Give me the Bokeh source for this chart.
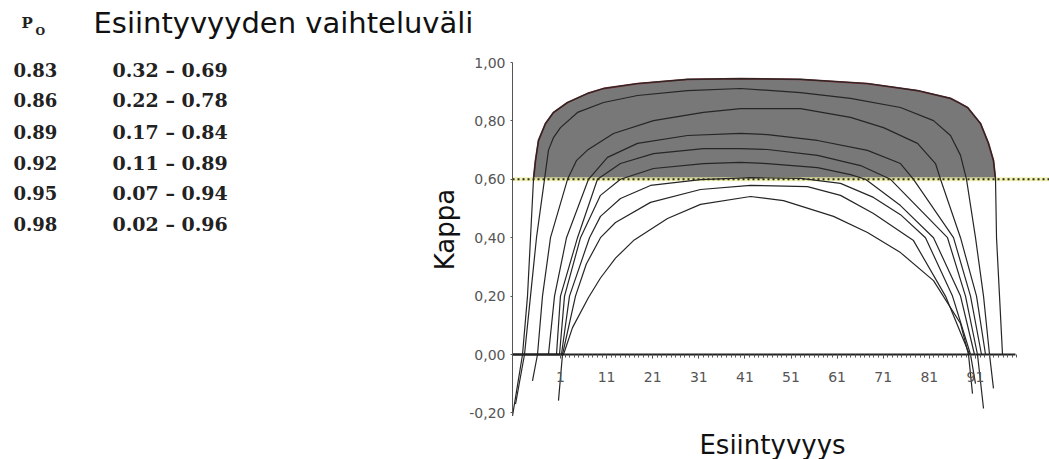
import numpy as np
from bokeh.plotting import figure
from bokeh.models import Range1d, FixedTicker, Label, LinearAxis, CustomJSTickFormatter
from bokeh.embed import file_html
from bokeh.resources import INLINE

# ---------------- data ----------------
po_values = ["0.83", "0.86", "0.89", "0.92", "0.95", "0.98"]
prevalence_ranges = ["0.32 – 0.69", "0.22 – 0.78", "0.17 – 0.84",
                     "0.11 – 0.89", "0.07 – 0.94", "0.02 – 0.96"]

x_tick_values = [1, 11, 21, 31, 41, 51, 61, 71, 81, 91]
x_minor_tick_values = list(range(1, 101))
y_tick_values = [-0.2, 0.0, 0.2, 0.4, 0.6, 0.8, 1.0]
kappa_threshold = 0.6
x_axis_start, x_axis_end = -9.41, 99.7
y_axis_start, y_axis_end = -0.21, 1.0

baseline_x = [-9.41, 1.65]
baseline_y = [0.0, 0.0]

# kappa curves (x = prevalence category, y = kappa)
kappa_098_x = [-9.41, -7.24, -6.16, -5.51, -4.86, -4.43, -3.77, -2.26, -0.52, 2.52, 6.85, 10.33,
               17.70, 28.55, 40.04, 53.06, 67.59, 78.44, 85.60, 87.33, 89.29, 92.11, 93.84, 94.92,
               95.36, 95.58, 96.23, 96.88]
kappa_098_y = [-0.21, 0.00, 0.20, 0.40, 0.60, 0.664, 0.733, 0.791, 0.829, 0.863, 0.894, 0.911,
               0.928, 0.942, 0.945, 0.942, 0.928, 0.904, 0.877, 0.863, 0.846, 0.791, 0.723, 0.664,
               0.60, 0.40, 0.20, 0.00]

kappa_095_x = [-8.76, -6.81, -5.51, -4.21, -2.47, -1.61, -0.52, 0.99, 4.69, 10.33, 17.70, 28.55,
               40.04, 53.06, 63.91, 74.75, 81.91, 85.60, 87.77, 89.07, 91.02, 92.76, 94.06, 94.92]
kappa_095_y = [-0.17, 0.00, 0.20, 0.40, 0.60, 0.70, 0.743, 0.777, 0.829, 0.863, 0.887, 0.904,
               0.911, 0.897, 0.877, 0.846, 0.801, 0.750, 0.682, 0.60, 0.40, 0.20, 0.00, -0.116]

kappa_092_x = [-5.08, -3.99, -2.91, -1.17, 2.52, 4.50, 6.85, 12.49, 21.17, 32.02, 40.04, 53.06,
               63.91, 71.06, 78.44, 82.34, 83.43, 87.77, 91.24, 93.19]
kappa_092_y = [-0.09, 0.00, 0.20, 0.40, 0.60, 0.665, 0.70, 0.757, 0.801, 0.829, 0.842, 0.842,
               0.812, 0.777, 0.723, 0.654, 0.60, 0.40, 0.20, 0.00]

kappa_089_x = [-1.61, -0.30, 2.30, 7.07, 11.19, 17.70, 28.55, 40.04, 45.90, 56.75, 67.59, 74.75,
               77.57, 86.25, 89.94, 92.32]
kappa_089_y = [0.00, 0.20, 0.40, 0.60, 0.675, 0.723, 0.750, 0.757, 0.753, 0.733, 0.699, 0.654,
               0.60, 0.40, 0.20, 0.00]

kappa_086_x = [0.13, 0.99, 4.69, 9.02, 14.01, 21.17, 32.02, 40.04, 45.90, 56.75, 66.08, 72.58,
               84.95, 88.85, 91.45, 92.76]
kappa_086_y = [0.00, 0.20, 0.40, 0.60, 0.654, 0.688, 0.705, 0.705, 0.702, 0.682, 0.647, 0.60,
               0.40, 0.20, 0.00, -0.185]

kappa_083_x = [0.78, 1.87, 5.34, 9.67, 14.01, 21.17, 32.02, 40.04, 45.90, 56.75, 63.91, 67.16,
               74.75, 81.91, 87.77, 90.80]
kappa_083_y = [0.00, 0.20, 0.40, 0.545, 0.60, 0.637, 0.654, 0.658, 0.654, 0.640, 0.616, 0.60,
               0.51, 0.40, 0.20, 0.00]

kappa_080_x = [1.21, 2.95, 7.29, 9.67, 14.01, 20.52, 31.37, 42.21, 53.06, 61.74, 68.89, 74.75,
               80.17, 86.03, 89.94, 91.02]
kappa_080_y = [0.00, 0.20, 0.40, 0.473, 0.534, 0.579, 0.599, 0.606, 0.603, 0.586, 0.538, 0.479,
               0.40, 0.20, 0.00, -0.10]

kappa_079_x = [0.56, 1.43, 4.25, 6.60, 9.67, 12.93, 20.52, 31.37, 42.21, 54.58, 61.74, 68.89,
               77.57, 84.51, 89.72]
kappa_079_y = [-0.158, 0.00, 0.20, 0.31, 0.40, 0.452, 0.521, 0.565, 0.579, 0.575, 0.545, 0.483,
               0.39, 0.20, 0.00]

kappa_077_x = [1.65, 3.60, 7.07, 9.67, 12.93, 16.83, 24.21, 31.37, 42.21, 49.37, 60.22, 67.59,
               74.75, 81.91, 87.77, 89.50, 90.37]
kappa_077_y = [0.00, 0.092, 0.195, 0.262, 0.330, 0.39, 0.466, 0.514, 0.541, 0.527, 0.473, 0.418,
               0.349, 0.253, 0.106, 0.00, -0.134]

curves = [
    (kappa_098_x, kappa_098_y), (kappa_095_x, kappa_095_y), (kappa_092_x, kappa_092_y),
    (kappa_089_x, kappa_089_y), (kappa_086_x, kappa_086_y), (kappa_083_x, kappa_083_y),
    (kappa_080_x, kappa_080_y), (kappa_079_x, kappa_079_y), (kappa_077_x, kappa_077_y),
]

# ---------------- layout helpers (pixel -> data) ----------------
W, H = 1049, 459
PX0, PXU = 555.4, 4.61
PY0, PYU = 354.0, 292.0


def fx(px):
    return (px - PX0) / PXU


def fy(py):
    return (PY0 - py) / PYU


p = figure(width=W, height=H, output_backend="svg", toolbar_location=None,
           x_range=Range1d(fx(0), fx(W)), y_range=Range1d(fy(H), fy(0)),
           x_axis_location=None, y_axis_location=None, min_border=0)
p.outline_line_color = None
p.grid.visible = False
p.background_fill_color = "white"
p.border_fill_color = "white"

# grey region where the top curve is above the threshold
top_x = np.array(kappa_098_x)
top_y = np.array(kappa_098_y)
mask = top_y >= kappa_threshold
p.varea(x=top_x[mask], y1=kappa_threshold, y2=top_y[mask], fill_color="#787878")
p.line(top_x[mask], top_y[mask], line_color="#7a2a30", line_width=1.8)

# threshold line
p.line([x_axis_start, fx(W)], [kappa_threshold, kappa_threshold],
       line_color="#eeeea0", line_width=4, line_alpha=0.8)
p.line([x_axis_start, fx(W)], [kappa_threshold, kappa_threshold],
       line_color="#2e2e1a", line_width=2, line_dash="2 3")

# curves
for cx, cy in curves:
    p.line(cx, cy, line_color="#262626", line_width=1.2)

p.line(baseline_x, baseline_y, line_color="#111111", line_width=2)

# axes
xaxis = LinearAxis(fixed_location=0, bounds=(x_axis_start, x_axis_end),
                   ticker=FixedTicker(ticks=x_tick_values, minor_ticks=x_minor_tick_values))
xaxis.axis_line_color = "#222222"
xaxis.axis_line_width = 2
xaxis.major_tick_in = 0
xaxis.major_tick_out = 4
xaxis.major_tick_line_color = "#444444"
xaxis.minor_tick_in = 0
xaxis.minor_tick_out = 3
xaxis.minor_tick_line_color = "#555555"
xaxis.major_label_text_font = "DejaVu Sans"
xaxis.major_label_text_font_size = "14px"
xaxis.major_label_text_color = "#555555"
xaxis.major_label_standoff = 13
p.add_layout(xaxis, "below")

yaxis = LinearAxis(fixed_location=x_axis_start, bounds=(y_axis_start, y_axis_end),
                   ticker=FixedTicker(ticks=y_tick_values),
                   formatter=CustomJSTickFormatter(code="return tick.toFixed(2).replace('.', ',');"))
yaxis.axis_line_color = "#555555"
yaxis.axis_line_width = 1
yaxis.major_tick_in = 0
yaxis.major_tick_out = 2
yaxis.major_tick_line_color = "#555555"
yaxis.minor_tick_out = 0
yaxis.major_label_text_font = "DejaVu Sans"
yaxis.major_label_text_font_size = "14px"
yaxis.major_label_text_color = "#555555"
yaxis.major_label_standoff = 5
p.add_layout(yaxis, "left")

# axis titles
p.add_layout(Label(x=fx(444), y=fy(229), text="Kappa", angle=np.pi / 2,
                   text_align="center", text_baseline="middle",
                   text_font="DejaVu Sans", text_font_size="26px", text_color="#111111"))
p.add_layout(Label(x=fx(772), y=fy(444), text="Esiintyvyys",
                   text_align="center", text_baseline="alphabetic",
                   text_font="DejaVu Sans", text_font_size="26px", text_color="#111111"))

# table header
p.add_layout(Label(x=fx(21), y=fy(22.5), text="P", text_align="left", text_baseline="alphabetic",
                   text_font="DejaVu Serif", text_font_style="bold", text_font_size="15px",
                   text_color="#222222"))
p.add_layout(Label(x=fx(35), y=fy(31), text="O", text_align="left", text_baseline="alphabetic",
                   text_font="DejaVu Serif", text_font_style="bold", text_font_size="11px",
                   text_color="#222222"))
p.add_layout(Label(x=fx(93), y=fy(22.5), text="Esiintyvyyden vaihteluväli",
                   text_align="left", text_baseline="alphabetic",
                   text_font="DejaVu Sans", text_font_size="29px", text_color="#111111"))

row_baselines = [69.5, 99.5, 131, 162, 192, 223.5]
for po, rng, b in zip(po_values, prevalence_ranges, row_baselines):
    p.add_layout(Label(x=fx(13), y=fy(b), text=po, text_align="left", text_baseline="alphabetic",
                       text_font="DejaVu Serif", text_font_style="bold", text_font_size="18px",
                       text_color="#222222"))
    p.add_layout(Label(x=fx(112), y=fy(b), text=rng, text_align="left", text_baseline="alphabetic",
                       text_font="DejaVu Serif", text_font_style="bold", text_font_size="19px",
                       text_color="#222222"))

open("out.html", "w").write(file_html(p, INLINE))
